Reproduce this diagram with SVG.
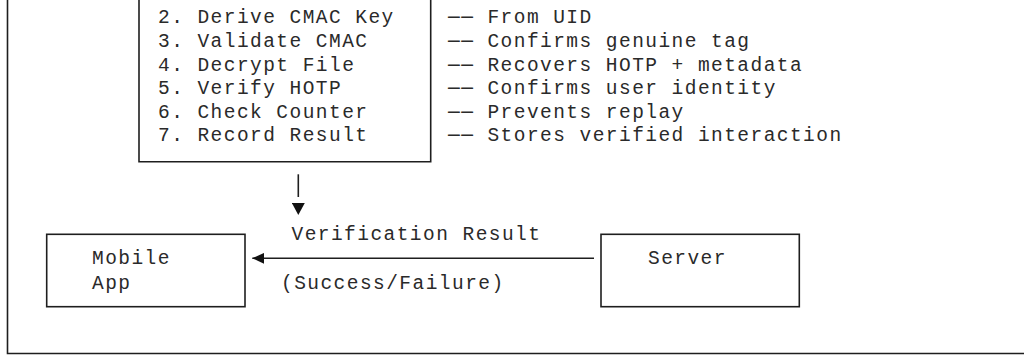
<svg xmlns="http://www.w3.org/2000/svg" width="1024" height="356" viewBox="0 0 1024 356">
  <style>
    .t { font-family: "Liberation Mono", "DejaVu Sans Mono", monospace; font-size: 19.5px; letter-spacing: 1.45px; fill: #2a2a2a; }
    .ln { fill: none; stroke: #1e1e1e; stroke-width: 1.6; }
  </style>
  <defs>
    <marker id="ah" markerWidth="12" markerHeight="11" refX="12" refY="5.5" orient="auto" markerUnits="userSpaceOnUse">
      <path d="M0,0 L12,5.5 L0,11 Z" fill="#111"/>
    </marker>
    <marker id="ah-gap" markerWidth="18" markerHeight="13" refX="0" refY="6.5" orient="auto" markerUnits="userSpaceOnUse">
      <path d="M6,0 L18,6.5 L6,13 Z" fill="#111"/>
    </marker>
  </defs>
  <rect width="1024" height="356" fill="#fff"/>

  <g id="frame">
    <path class="ln" d="M7.5,0 V353.5 H1024"/>
  </g>

  <g id="verify-steps">
    <path class="ln" d="M139,0 V161.7 H430.7 V0"/>
    <text class="t" x="158" y="23.3">2. Derive CMAC Key</text>
    <text class="t" x="158" y="46.9">3. Validate CMAC</text>
    <text class="t" x="158" y="70.5">4. Decrypt File</text>
    <text class="t" x="158" y="94.1">5. Verify HOTP</text>
    <text class="t" x="158" y="117.7">6. Check Counter</text>
    <text class="t" x="158" y="141.3">7. Record Result</text>
  </g>

  <g id="step-notes">
    <text class="t" x="448" y="23.3">── From UID</text>
    <text class="t" x="448" y="46.9">── Confirms genuine tag</text>
    <text class="t" x="448" y="70.5">── Recovers HOTP + metadata</text>
    <text class="t" x="448" y="94.1">── Confirms user identity</text>
    <text class="t" x="448" y="117.7">── Prevents replay</text>
    <text class="t" x="448" y="141.3">── Stores verified interaction</text>
  </g>

  <g id="mobile-app">
    <rect class="ln" x="46.7" y="234.3" width="198.3" height="72.4"/>
    <text class="t" x="92" y="264.3">Mobile</text>
    <text class="t" x="92" y="288.5">App</text>
  </g>

  <g id="server">
    <rect class="ln" x="601" y="234.3" width="198.3" height="72.4"/>
    <text class="t" x="648" y="264.3">Server</text>
  </g>

  <g id="connectors">
    <path class="ln" d="M298.3,174.3 V197" marker-end="url(#ah-gap)"/>
    <path class="ln" d="M594,258.3 H252.3" marker-end="url(#ah)"/>
    <text class="t" x="291.5" y="240">Verification Result</text>
    <text class="t" x="281" y="288.5">(Success/Failure)</text>
  </g>
</svg>
